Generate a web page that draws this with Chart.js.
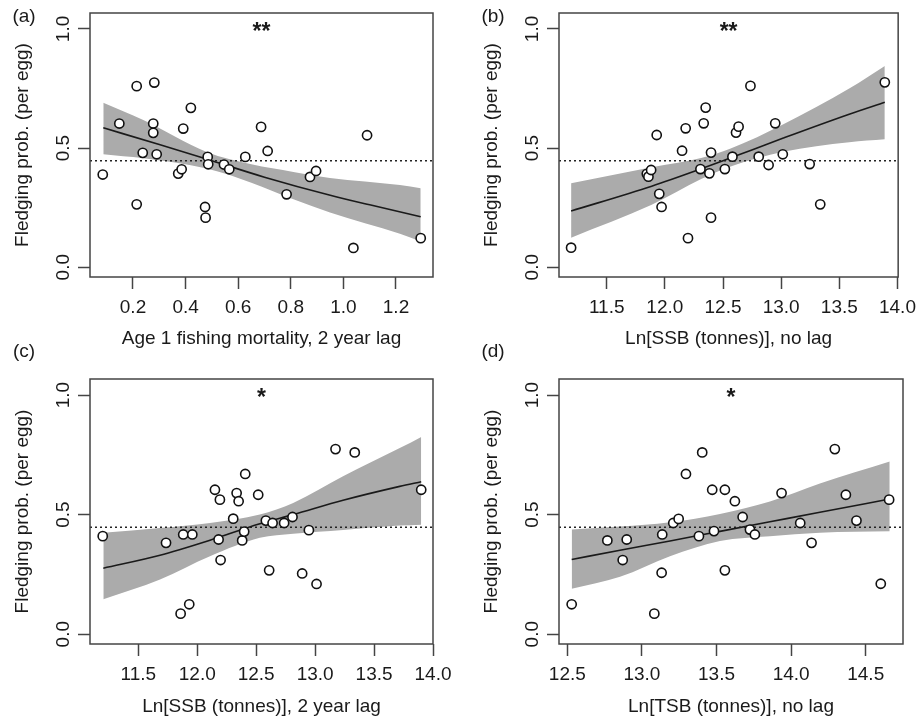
<!DOCTYPE html>
<html>
<head>
<meta charset="utf-8">
<title>Fledging probability</title>
<script src="https://cdn.jsdelivr.net/npm/chart.js@4.4.1/dist/chart.umd.min.js"></script>
<style>
  html, body { margin: 0; padding: 0; background: #fff; overflow: hidden; }
  #wrap { position: relative; width: 923px; height: 720px; }
  canvas { position: absolute; }
</style>
</head>
<body>
<div id="wrap">
  <canvas id="pa" width="469" height="366" style="left:0;top:0"></canvas>
  <canvas id="pb" width="454" height="366" style="left:469px;top:0"></canvas>
  <canvas id="pc" width="469" height="390" style="left:0;top:330px"></canvas>
  <canvas id="pd" width="454" height="390" style="left:469px;top:330px"></canvas>
</div>
<script>
// shared
const yTicks = [0, 0.5, 1.0];
const meanLine = 0.447;

// (a) Age 1 fishing mortality, 2 year lag
const aTicks = [0.2, 0.4, 0.6, 0.8, 1.0, 1.2];
const aX = [0.085, 0.148, 0.214, 0.214, 0.237, 0.281, 0.277, 0.277, 0.290, 0.420, 0.391, 0.372, 0.385, 0.474,
            0.476, 0.484, 0.486, 0.546, 0.566, 0.627, 0.687, 0.712, 0.784, 0.873, 0.896, 1.090, 1.038, 1.294];
const aY = [0.389, 0.603, 0.760, 0.264, 0.480, 0.775, 0.603, 0.564, 0.474, 0.669, 0.582, 0.393, 0.411, 0.253,
            0.208, 0.463, 0.432, 0.431, 0.411, 0.463, 0.589, 0.488, 0.306, 0.379, 0.404, 0.554, 0.081, 0.122];
const aFitX = [0.087, 0.3, 0.5, 0.7, 0.95, 1.1, 1.294];
const aFitY = [0.585, 0.515, 0.447, 0.378, 0.302, 0.262, 0.212];
const aBandX = [0.087, 0.239, 0.48, 0.65, 0.81, 0.949, 1.215, 1.294];
const aUpper = [0.690, 0.618, 0.484, 0.432, 0.400, 0.375, 0.345, 0.331];
const aLower = [0.474, 0.457, 0.414, 0.355, 0.285, 0.230, 0.140, 0.108];

// (b) Ln[SSB], no lag
const bTicks = [11.5, 12.0, 12.5, 13.0, 13.5, 14.0];
const bX = [11.194, 11.845, 11.859, 11.882, 11.930, 11.952, 11.972, 12.148, 12.179, 12.199, 12.306, 12.334, 12.351, 12.383,
            12.397, 12.397, 12.516, 12.581, 12.612, 12.634, 12.736, 12.807, 12.892, 12.949, 13.014, 13.245, 13.336, 13.891];
const bY = [0.082, 0.392, 0.380, 0.408, 0.555, 0.308, 0.253, 0.489, 0.583, 0.122, 0.412, 0.604, 0.670, 0.394,
            0.481, 0.208, 0.412, 0.464, 0.565, 0.590, 0.761, 0.464, 0.429, 0.604, 0.474, 0.433, 0.264, 0.776];
const bFitX = [11.194, 11.887, 12.312, 12.566, 13.019, 13.585, 13.891];
const bFitY = [0.236, 0.340, 0.413, 0.459, 0.542, 0.642, 0.692];
const bBandX = [11.194, 11.887, 12.312, 12.566, 13.019, 13.585, 13.891];
const bUpper = [0.352, 0.420, 0.458, 0.498, 0.600, 0.750, 0.845];
const bLower = [0.124, 0.262, 0.370, 0.423, 0.485, 0.525, 0.537];

// (c) Ln[SSB], 2 year lag
const cTicks = [11.5, 12.0, 12.5, 13.0, 13.5, 14.0];
const cX = [11.198, 11.735, 11.881, 11.958, 11.859, 11.932, 12.150, 12.192, 12.181, 12.198, 12.305, 12.334, 12.351, 12.381,
            12.398, 12.407, 12.517, 12.582, 12.610, 12.639, 12.737, 12.808, 12.890, 12.947, 13.012, 13.173, 13.336, 13.900];
const cY = [0.410, 0.382, 0.417, 0.417, 0.086, 0.125, 0.604, 0.5625, 0.396, 0.310, 0.483, 0.590, 0.556, 0.392,
            0.429, 0.670, 0.583, 0.475, 0.267, 0.465, 0.465, 0.490, 0.254, 0.435, 0.210, 0.774, 0.760, 0.604];
const cFitX = [11.203, 11.684, 12.108, 12.531, 12.814, 13.237, 13.718, 13.9];
const cFitY = [0.276, 0.330, 0.393, 0.462, 0.500, 0.560, 0.618, 0.6375];
const cBandX = [11.203, 11.684, 12.108, 12.531, 12.814, 13.237, 13.718, 13.9];
const cUpper = [0.424, 0.444, 0.465, 0.500, 0.549, 0.660, 0.778, 0.825];
const cLower = [0.146, 0.229, 0.326, 0.403, 0.420, 0.436, 0.454, 0.458];

// (d) Ln[TSB], no lag
const dTicks = [12.5, 13.0, 13.5, 14.0, 14.5];
const dX = [12.529, 12.768, 12.898, 12.871, 13.083, 13.132, 13.136, 13.210, 13.246, 13.295, 13.382, 13.404, 13.471, 13.483,
            13.556, 13.556, 13.623, 13.675, 13.724, 13.757, 13.936, 14.061, 14.137, 14.293, 14.367, 14.438, 14.601, 14.657];
const dY = [0.125, 0.392, 0.396, 0.310, 0.086, 0.257, 0.417, 0.465, 0.482, 0.670, 0.410, 0.760, 0.604, 0.431,
            0.604, 0.267, 0.556, 0.490, 0.4375, 0.417, 0.590, 0.465, 0.382, 0.774, 0.583, 0.475, 0.211, 0.5625];
const dFitX = [12.529, 12.853, 13.188, 13.523, 13.858, 14.193, 14.661];
const dFitY = [0.3125, 0.351, 0.390, 0.430, 0.470, 0.510, 0.565];
const dBandX = [12.529, 12.853, 13.188, 13.523, 13.858, 14.193, 14.661];
const dUpper = [0.4375, 0.450, 0.468, 0.503, 0.555, 0.630, 0.722];
const dLower = [0.190, 0.240, 0.326, 0.390, 0.410, 0.424, 0.430];

const FONT = '"Liberation Sans", Arial, Helvetica, sans-serif';
const INK = '#1a1a1a';
const AXIS = '#444';

const toXY = (xs, ys) => xs.map((x, i) => ({ x: x, y: ys[i] }));

// box, stars and panel letter
const panelDeco = {
    id: 'panelDeco',
    afterDraw(chart, args, opts) {
        const { ctx, chartArea: ca, scales } = chart;
        ctx.save();
        ctx.strokeStyle = AXIS;
        ctx.lineWidth = 1.5;
        ctx.strokeRect(ca.left, ca.top, ca.right - ca.left, ca.bottom - ca.top);
        ctx.fillStyle = INK;
        ctx.textAlign = 'center';
        ctx.font = 'bold 23px ' + FONT;
        ctx.textBaseline = 'alphabetic';
        ctx.fillText(opts.stars, (ca.left + ca.right) / 2, scales.y.getPixelForValue(1.0) + 10);
        ctx.font = '19px ' + FONT;
        ctx.textBaseline = 'middle';
        ctx.fillText(opts.label, 24, opts.labelY);
        ctx.restore();
    }
};

function makePanel(id, p) {
    const canvas = document.getElementById(id);
    const top = p.bottomRow ? 49 : 13;
    const plotH = p.bottomRow ? 265 : 264;
    const xAxisH = canvas.height - top - plotH;
    const titlePad = p.bottomRow ? 1.6 : 15.6;

    new Chart(canvas, {
        type: 'line',
        data: {
            datasets: [
                {
                    data: toXY(p.xs, p.ys),
                    showLine: false,
                    pointRadius: 4.6,
                    pointBackgroundColor: '#fff',
                    pointBorderColor: '#111',
                    pointBorderWidth: 1.6
                },
                {
                    data: toXY(p.fitX, p.fitY),
                    borderColor: INK,
                    borderWidth: 1.6,
                    pointRadius: 0,
                    cubicInterpolationMode: 'monotone'
                },
                {
                    data: [{ x: p.min, y: meanLine }, { x: p.max, y: meanLine }],
                    borderColor: '#222',
                    borderWidth: 1.5,
                    borderDash: [2, 3],
                    pointRadius: 0
                },
                {
                    data: toXY(p.bandX, p.upper),
                    borderWidth: 0,
                    borderColor: 'rgba(0,0,0,0)',
                    backgroundColor: '#ababab',
                    pointRadius: 0,
                    cubicInterpolationMode: 'monotone',
                    fill: '+1'
                },
                {
                    data: toXY(p.bandX, p.lower),
                    borderWidth: 0,
                    borderColor: 'rgba(0,0,0,0)',
                    pointRadius: 0,
                    cubicInterpolationMode: 'monotone',
                    fill: false
                }
            ]
        },
        options: {
            responsive: false,
            animation: false,
            devicePixelRatio: 1,
            layout: { padding: { left: 0, top: top, right: p.padRight, bottom: 0 } },
            plugins: {
                legend: { display: false },
                tooltip: { enabled: false },
                panelDeco: { label: p.label, stars: p.stars, labelY: p.labelY }
            },
            scales: {
                x: {
                    type: 'linear',
                    min: p.min,
                    max: p.max,
                    afterBuildTicks: s => { s.ticks = p.ticks.map(v => ({ value: v })); },
                    afterFit: s => { s.height = xAxisH; },
                    ticks: {
                        font: { family: FONT, size: 19 },
                        color: INK,
                        padding: 7,
                        autoSkip: false,
                        maxRotation: 0,
                        callback: v => v.toFixed(1)
                    },
                    grid: { drawOnChartArea: false, drawTicks: true, tickLength: 12, tickColor: AXIS, tickWidth: 1.5 },
                    border: { display: false },
                    title: {
                        display: true,
                        text: p.xTitle,
                        color: INK,
                        font: { family: FONT, size: 19 },
                        padding: { top: 0, bottom: titlePad }
                    }
                },
                y: {
                    type: 'linear',
                    min: -0.041,
                    max: 1.067,
                    afterBuildTicks: s => { s.ticks = yTicks.map(v => ({ value: v })); },
                    afterFit: s => { s.width = 90; },
                    ticks: {
                        font: { family: FONT, size: 19 },
                        color: INK,
                        padding: 1,
                        minRotation: 90,
                        maxRotation: 90,
                        crossAlign: 'center',
                        callback: v => v.toFixed(1)
                    },
                    grid: { drawOnChartArea: false, drawTicks: true, tickLength: 12, tickColor: AXIS, tickWidth: 1.5 },
                    border: { display: false },
                    title: {
                        display: true,
                        text: 'Fledging prob. (per egg)',
                        color: INK,
                        font: { family: FONT, size: 19 },
                        padding: { top: 11.6, bottom: 0 }
                    }
                }
            }
        },
        plugins: [panelDeco]
    });
}

makePanel('pa', {
    label: '(a)', stars: '**', labelY: 17, bottomRow: false, padRight: 36,
    min: 0.0365, max: 1.3407, ticks: aTicks, xTitle: 'Age 1 fishing mortality, 2 year lag',
    xs: aX, ys: aY, fitX: aFitX, fitY: aFitY, bandX: aBandX, upper: aUpper, lower: aLower
});
makePanel('pb', {
    label: '(b)', stars: '**', labelY: 17, bottomRow: false, padRight: 20,
    min: 11.09, max: 14.006, ticks: bTicks, xTitle: 'Ln[SSB (tonnes)], no lag',
    xs: bX, ys: bY, fitX: bFitX, fitY: bFitY, bandX: bBandX, upper: bUpper, lower: bLower
});
makePanel('pc', {
    label: '(c)', stars: '*', labelY: 22, bottomRow: true, padRight: 36,
    min: 11.09, max: 14.0, ticks: cTicks, xTitle: 'Ln[SSB (tonnes)], 2 year lag',
    xs: cX, ys: cY, fitX: cFitX, fitY: cFitY, bandX: cBandX, upper: cUpper, lower: cLower
});
makePanel('pd', {
    label: '(d)', stars: '*', labelY: 22, bottomRow: true, padRight: 20,
    min: 12.444, max: 14.75, ticks: dTicks, xTitle: 'Ln[TSB (tonnes)], no lag',
    xs: dX, ys: dY, fitX: dFitX, fitY: dFitY, bandX: dBandX, upper: dUpper, lower: dLower
});
</script>
</body>
</html>
